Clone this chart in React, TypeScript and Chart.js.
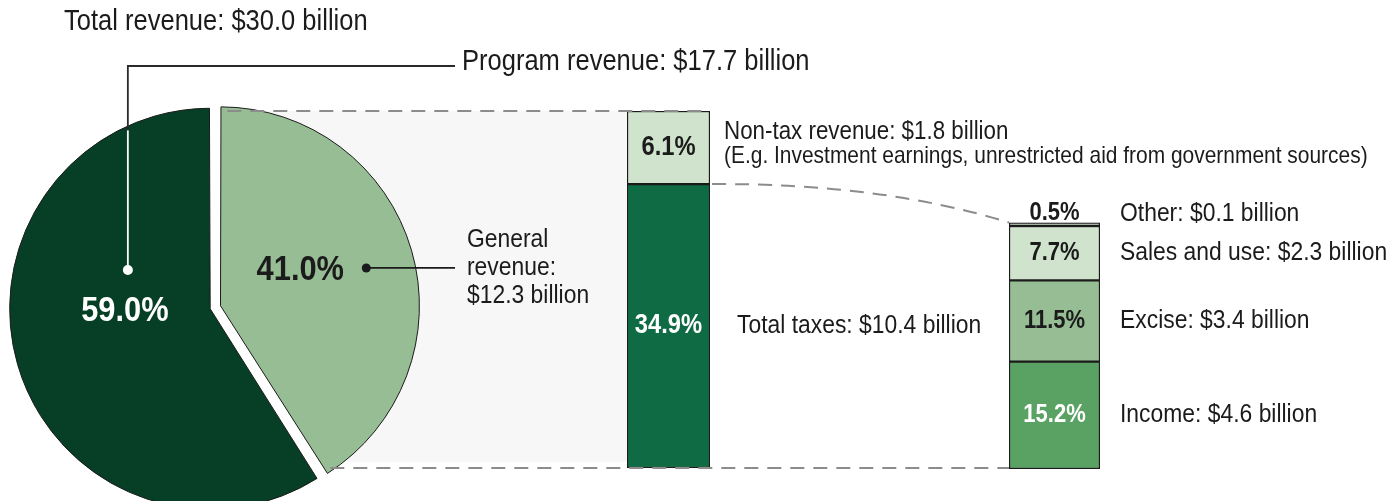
import React, { useEffect, useRef } from "react";
import { Chart, registerables } from "chart.js";

Chart.register(...registerables);

const W = 1389;
const H = 501;

// ---------- data ----------
const totalRevenueBillions = 30.0;
const revenueCategories = ["General revenue", "Program revenue"];
const revenueShares = [41.0, 59.0];
const revenueBillions = [12.3, 17.7];

const generalCategories = ["Total taxes", "Non-tax revenue"];
const generalShares = [34.9, 6.1];
const generalBillions = [10.4, 1.8];
const nonTaxNote = "(E.g. Investment earnings, unrestricted aid from government sources)";

const taxCategories = ["Income", "Excise", "Sales and use", "Other"];
const taxShares = [15.2, 11.5, 7.7, 0.5];
const taxBillions = [4.6, 3.4, 2.3, 0.1];

// ---------- styles / layout ----------
const C_DARK = "#063f26";
const C_LIGHT = "#97bd94";
const C_PALE = "#d0e3cc";
const C_MID = "#0f6b43";
const C_GREEN = "#59a264";
const INK = "#1b1b1b";
const DASH = "#8c8c8c";
const BAND = "#f7f7f7";

const MID_AREA = { left: 627, right: 710, top: 111, bottom: 468 };
const TAX_AREA = { left: 1009, right: 1100, top: 222.5, bottom: 469 };
const PIE_CENTER = { x: 214.5, y: 307.5 };
const PIE_RADIUS = 196;
const MID_AXIS_MIN = 11.2;

const FONT = "'Liberation Sans', Arial, sans-serif";
const SX = 0.88;

function drawText(ctx: any, str: string, x: number, y: number, size: number, opts: any = {}) {
  const { bold = false, color = INK, align = "left" } = opts;
  ctx.save();
  ctx.translate(x, y);
  ctx.scale(SX, 1);
  ctx.font = `${bold ? "bold " : ""}${size}px ${FONT}`;
  ctx.fillStyle = color;
  ctx.textAlign = align;
  ctx.textBaseline = "middle";
  ctx.fillText(str, 0, 0);
  ctx.restore();
}

const pct = (v: number) => `${v.toFixed(1)}%`;
const money = (v: number) => `$${v.toFixed(1)} billion`;
const sum = (a: number[]) => Math.round(a.reduce((s, v) => s + v, 0) * 10) / 10;

function padFor(area: any) {
  return { left: area.left, right: W - area.right, top: area.top, bottom: H - area.bottom };
}

function arcGeom(arc: any) {
  const p = arc.getProps(["x", "y", "startAngle", "endAngle", "outerRadius"], true);
  const circ = p.endAngle - p.startAngle;
  const off = (arc.options.offset || 0) / 4;
  const fix = 1 - Math.sin(Math.min(Math.PI, circ));
  const shift = off + off * fix;
  const half = (p.startAngle + p.endAngle) / 2;
  return {
    cx: p.x + Math.cos(half) * shift,
    cy: p.y + Math.sin(half) * shift,
    r: p.outerRadius,
    start: p.startAngle,
    end: p.endAngle,
  };
}

function barBox(chart: any, i: number) {
  const el = chart.getDatasetMeta(i).data[0];
  const area = chart.chartArea;
  const top = Math.max(Math.min(el.y, el.base), area.top);
  const bottom = Math.min(Math.max(el.y, el.base), area.bottom);
  return { top, bottom, left: el.x - el.width / 2, right: el.x + el.width / 2, cx: el.x, cy: (top + bottom) / 2 };
}

function barPlugin(kind: "mid" | "tax") {
  return {
    id: "barLabels_" + kind,
    afterDatasetsDraw(chart: any) {
      const ctx = chart.ctx;
      const n = chart.data.datasets.length;
      for (let i = 0; i < n; i++) {
        const b = barBox(chart, i);
        if (kind === "mid") {
          const v = generalShares[i];
          drawText(ctx, pct(v), b.cx, b.cy, 27, { bold: true, color: i === 0 ? "#ffffff" : INK, align: "center" });
          if (i === 0) {
            drawText(ctx, `${generalCategories[i]}: ${money(generalBillions[i])}`, b.right + 27, b.cy, 26);
          } else {
            drawText(ctx, `${generalCategories[i]}: ${money(generalBillions[i])}`, b.right + 14, b.cy - 16, 25.4);
            drawText(ctx, nonTaxNote, b.right + 14, b.cy + 9, 23.8);
          }
        } else {
          const v = taxShares[i];
          const last = i === n - 1;
          const ly = last ? b.top - 9 : b.cy;
          drawText(ctx, pct(v), b.cx, ly, 25, { bold: true, color: i === 0 ? "#ffffff" : INK, align: "center" });
          drawText(ctx, `${taxCategories[i]}: ${money(taxBillions[i])}`, b.right + 20, ly, 26);
        }
      }
    },
  };
}

function makeBar(canvas: HTMLCanvasElement, area: any, cats: string[], shares: number[], colors: string[], yMin: number, yMax: number, plugin: any) {
  return new Chart(canvas, {
    type: "bar",
    data: {
      labels: [""],
      datasets: shares.map((v, i) => {
        const ds: any = {
          label: cats[i],
          data: [v],
          backgroundColor: colors[i],
          borderColor: INK,
          borderWidth: 1.5,
          borderSkipped: false,
          barPercentage: 1,
          categoryPercentage: 1,
        };
        if (i === 0 && yMin > 0) ds.base = yMin;
        return ds;
      }),
    },
    options: {
      responsive: false,
      animation: false,
      events: [],
      layout: { padding: padFor(area) },
      plugins: { legend: { display: false }, tooltip: { enabled: false } },
      scales: {
        x: { display: false, stacked: true },
        y: { display: false, stacked: true, min: yMin, max: yMax },
      },
    },
    plugins: [plugin],
  } as any);
}

export default function App() {
  const midRef = useRef<HTMLCanvasElement>(null);
  const taxRef = useRef<HTMLCanvasElement>(null);
  const pieRef = useRef<HTMLCanvasElement>(null);

  useEffect(() => {
    const midChart = makeBar(
      midRef.current!, MID_AREA, generalCategories, generalShares, [C_MID, C_PALE],
      MID_AXIS_MIN, sum(generalShares), barPlugin("mid")
    );
    const taxChart = makeBar(
      taxRef.current!, TAX_AREA, taxCategories, taxShares, [C_GREEN, C_LIGHT, C_PALE, C_PALE],
      0, sum(taxShares), barPlugin("tax")
    );

    const piePlugin = {
      id: "pieAnno",
      beforeDatasetsDraw(chart: any) {
        const ctx = chart.ctx;
        const light = arcGeom(chart.getDatasetMeta(0).data[0]);
        const midTop = barBox(midChart, generalShares.length - 1);
        const midBot = barBox(midChart, 0);
        const tipX = light.cx + light.r * Math.cos(light.end);
        ctx.save();
        ctx.fillStyle = BAND;
        ctx.beginPath();
        ctx.moveTo(light.cx, midTop.top);
        ctx.lineTo(midTop.left, midTop.top);
        ctx.lineTo(midTop.left, midBot.bottom - 6);
        ctx.lineTo(tipX, midBot.bottom - 6);
        ctx.closePath();
        ctx.fill();
        ctx.restore();
      },
      afterDatasetsDraw(chart: any) {
        const ctx = chart.ctx;
        const light = arcGeom(chart.getDatasetMeta(0).data[0]);
        const dark = arcGeom(chart.getDatasetMeta(0).data[1]);

        // dashed connectors
        const midTop = barBox(midChart, generalShares.length - 1);
        const midBot = barBox(midChart, 0);
        const taxTop = barBox(taxChart, taxShares.length - 1);
        const tipX = light.cx + light.r * Math.cos(light.end);

        ctx.save();
        ctx.strokeStyle = DASH;
        ctx.lineWidth = 2;
        ctx.setLineDash([14, 9]);
        ctx.beginPath();
        ctx.moveTo(light.cx + 4, midTop.top);
        ctx.lineTo(midTop.right, midTop.top);
        ctx.stroke();
        ctx.beginPath();
        ctx.moveTo(tipX + 2, midBot.bottom);
        ctx.lineTo(taxTop.left, midBot.bottom);
        ctx.stroke();
        ctx.beginPath();
        const sx = midTop.right + 2, sy = midBot.top;
        const ex = taxTop.left, ey = taxTop.top;
        ctx.moveTo(sx, sy);
        ctx.quadraticCurveTo(sx + 0.57 * (ex - sx), sy - 1, ex, ey);
        ctx.stroke();
        ctx.restore();

        // program revenue leader
        const dotX = dark.cx - 78;
        const dotY = dark.cy - 40;
        const lineY = 66;
        const dx = dotX - dark.cx;
        const yInt = dark.cy - Math.sqrt(dark.r * dark.r - dx * dx);
        ctx.save();
        ctx.lineWidth = 1.8;
        ctx.strokeStyle = "#ffffff";
        ctx.beginPath();
        ctx.moveTo(dotX, dotY);
        ctx.lineTo(dotX, yInt);
        ctx.stroke();
        ctx.strokeStyle = "#2a2a2a";
        ctx.beginPath();
        ctx.moveTo(dotX, yInt);
        ctx.lineTo(dotX, lineY);
        ctx.lineTo(455, lineY);
        ctx.stroke();
        ctx.fillStyle = "#ffffff";
        ctx.beginPath();
        ctx.arc(dotX, dotY, 5, 0, Math.PI * 2);
        ctx.fill();

        // general revenue leader
        const gDotX = light.cx + 143;
        const gDotY = light.cy - 37;
        ctx.strokeStyle = INK;
        ctx.lineWidth = 1.8;
        ctx.beginPath();
        ctx.moveTo(gDotX, gDotY);
        ctx.lineTo(455, gDotY);
        ctx.stroke();
        ctx.fillStyle = INK;
        ctx.beginPath();
        ctx.arc(gDotX, gDotY, 4.5, 0, Math.PI * 2);
        ctx.fill();
        ctx.restore();

        // texts
        drawText(ctx, `Total revenue: ${money(totalRevenueBillions)}`, 64, 22, 29);
        drawText(ctx, `${revenueCategories[1]}: ${money(revenueBillions[1])}`, 462, 62, 29);
        const words = revenueCategories[0].split(" ");
        drawText(ctx, words[0], 467, 240, 26);
        drawText(ctx, `${words[1]}:`, 467, 268, 26);
        drawText(ctx, money(revenueBillions[0]), 467, 296, 26);
        drawText(ctx, pct(revenueShares[0]), light.cx + 77, light.cy - 35, 35, { bold: true, align: "center" });
        drawText(ctx, pct(revenueShares[1]), dark.cx - 81, dark.cy + 1, 35, { bold: true, color: "#ffffff", align: "center" });
      },
    };

    const pieChart = new Chart(pieRef.current!, {
      type: "pie",
      data: {
        labels: revenueCategories,
        datasets: [
          {
            data: revenueShares,
            backgroundColor: [C_LIGHT, C_DARK],
            borderColor: INK,
            borderWidth: 1,
            offset: [25, 18],
          },
        ],
      },
      options: {
        responsive: false,
        animation: false,
        events: [],
        radius: PIE_RADIUS,
        layout: {
          padding: { left: 0, right: W - 2 * PIE_CENTER.x, top: 2 * PIE_CENTER.y - H, bottom: 0 },
        },
        plugins: { legend: { display: false }, tooltip: { enabled: false } },
      },
      plugins: [piePlugin],
    } as any);

    return () => {
      pieChart.destroy();
      taxChart.destroy();
      midChart.destroy();
    };
  }, []);

  const cs: React.CSSProperties = { position: "absolute", left: 0, top: 0, width: W, height: H };
  return (
    <div style={{ position: "fixed", left: 0, top: 0, width: W, height: H, background: "#ffffff", overflow: "hidden" }}>
      <canvas ref={midRef} width={W} height={H} style={cs} />
      <canvas ref={taxRef} width={W} height={H} style={cs} />
      <canvas ref={pieRef} width={W} height={H} style={cs} />
    </div>
  );
}
